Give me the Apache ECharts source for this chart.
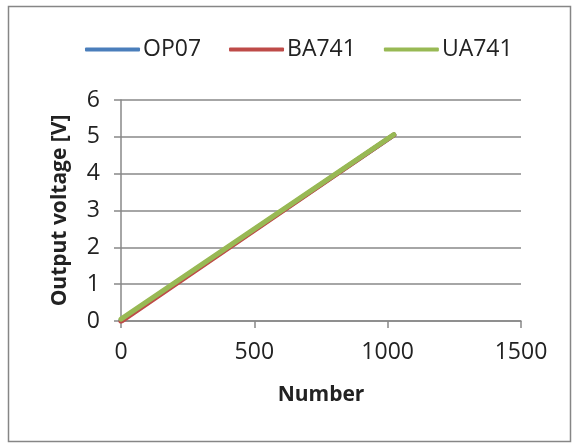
<!DOCTYPE html>
<html><head><meta charset="utf-8">
<script src="https://cdn.jsdelivr.net/npm/echarts@6/dist/echarts.min.js"></script>
<style>html,body{margin:0;padding:0;background:#fff}#c{width:573px;height:443px}</style>
</head><body><div id="c"></div>
<script>
const xValues = [0, 1023];
const op07 = [0.02, 5.05];
const ba741 = [-0.01, 5.05];
const ua741 = [0.05, 5.06];
const seriesNames = ['OP07', 'BA741', 'UA741'];
const colors = ['#4A7EBB', '#BE4B48', '#98B954'];
const font = 'Open Sans';
const chart = echarts.init(document.getElementById('c'));
const vals = [op07, ba741, ua741];
chart.setOption({
  animation: false,
  graphic: [{type:'rect', shape:{x:8.5,y:6.5,width:562,height:435}, style:{fill:'none', stroke:'#868686', lineWidth:1.5}}],
  legend: {
    top: 33, left: 80, itemWidth: 55, itemHeight: 4, itemGap: 28,
    icon: 'roundRect',
    textStyle: {fontFamily: font, fontSize: 23, color: '#222', padding:[0,0,0,-2]},
    data: seriesNames
  },
  grid: {left: 121, right: 52, top: 100, bottom: 122},
  xAxis: {
    type: 'value', min: 0, max: 1500, interval: 500,
    name: 'Number', nameLocation: 'middle', nameGap: 64,
    nameTextStyle: {fontFamily: font, fontSize: 21, fontWeight: 'bold', color: '#222'},
    axisLine: {show: true, onZero: false, lineStyle: {color: '#888', width: 1.5}},
    axisTick: {show: true, inside: false, length: 7, lineStyle: {color: '#888', width: 1.5}},
    axisLabel: {fontFamily: font, fontSize: 23, color: '#222', margin: 20, formatter: v => String(v)},
    splitLine: {show: false}
  },
  yAxis: {
    type: 'value', min: 0, max: 6, interval: 1,
    name: 'Output voltage [V]', nameLocation: 'middle', nameGap: 50,
    nameTextStyle: {fontFamily: font, fontSize: 21, fontWeight: 'bold', color: '#222'},
    axisLine: {show: true, lineStyle: {color: '#888', width: 1.5}},
    axisTick: {show: true, inside: false, length: 7, lineStyle: {color: '#888', width: 1.5}},
    axisLabel: {fontFamily: font, fontSize: 23, color: '#222', margin: 21, formatter: v => String(v)},
    splitLine: {show: true, lineStyle: {color: '#888', width: 1.5}}
  },
  series: seriesNames.map((n, i) => ({
    name: n, type: 'line', showSymbol: false, symbol: 'none',
    data: xValues.map((x, j) => [x, vals[i][j]]),
    lineStyle: {width: 5, color: colors[i], cap: 'round'},
    itemStyle: {color: colors[i]}
  }))
});
</script></body></html>
